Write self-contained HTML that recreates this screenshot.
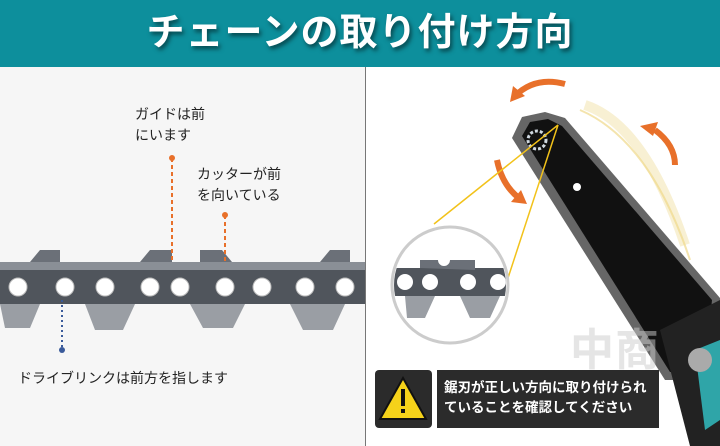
<!DOCTYPE html>
<html><head><meta charset="utf-8"><style>
body{margin:0;width:720px;height:446px;overflow:hidden;background:#fff;font-family:"Liberation Sans","Noto Sans CJK JP",sans-serif;position:relative}
.hdr{position:absolute;left:0;top:0;width:720px;height:67px;background:#0d8f9c;color:#fff;font-weight:bold;font-size:38px;text-align:center;line-height:67px;text-shadow:2px 3px 4px rgba(0,0,0,.5);letter-spacing:1px}
.lp{position:absolute;left:0;top:67px;width:365px;height:379px;background:#f6f6f6;border-right:1px solid #777}
.t{position:absolute;font-size:14px;color:#222;line-height:21px}
</style></head><body>
<div class="hdr">チェーンの取り付け方向</div>
<div class="lp"></div>
<svg style="position:absolute;left:0;top:0" width="720" height="446">
<!-- left chain -->
<rect x="0" y="268" width="365" height="36" fill="#50555c"/>
<rect x="0" y="262" width="365" height="8" fill="#8a8f96"/>
<g fill="#6b7078">
<path d="M30 262 l10 -12 h20 v12z"/><path d="M140 262 l10 -12 h22 v12z"/><path d="M200 262 v-12 h22 l10 12z"/><path d="M320 262 l10 -12 h20 v12z"/>
</g>
<g fill="#9a9ea4">
<path d="M0 304 h40 l-10 24 h-25z"/><path d="M85 304 h50 l-12 26 h-28z"/><path d="M190 304 h55 l-12 24 h-30z"/><path d="M290 304 h55 l-12 26 h-30z"/>
</g>
<g fill="#fff" stroke="#bbb">
<circle cx="18" cy="287" r="9"/><circle cx="65" cy="287" r="9"/><circle cx="105" cy="287" r="9"/><circle cx="150" cy="287" r="9"/><circle cx="180" cy="287" r="9"/><circle cx="225" cy="287" r="9"/><circle cx="262" cy="287" r="9"/><circle cx="305" cy="287" r="9"/><circle cx="345" cy="287" r="9"/>
</g>
<line x1="172" y1="158" x2="172" y2="262" stroke="#e8702a" stroke-width="2" stroke-dasharray="4,3"/>
<circle cx="172" cy="158" r="3" fill="#e8702a"/>
<line x1="225" y1="215" x2="225" y2="262" stroke="#e8702a" stroke-width="2" stroke-dasharray="4,3"/>
<circle cx="225" cy="215" r="3" fill="#e8702a"/>
<line x1="62" y1="300" x2="62" y2="350" stroke="#3a5a9a" stroke-width="2" stroke-dasharray="2,3"/>
<circle cx="62" cy="350" r="3" fill="#3a5a9a"/>
<!-- right: chainsaw bar -->
<path d="M512 138 L522 117 L545 112 L565 118 L720 298 L720 380 L665 380 Z" fill="#666"/>
<path d="M522 136 L530 122 L548 119 L562 126 L712 300 L705 372 L670 372 Z" fill="#111"/>
<circle cx="537" cy="140" r="9" fill="none" stroke="#cfd8e0" stroke-width="3" stroke-dasharray="3,2"/>
<circle cx="577" cy="187" r="4" fill="#fff"/>
<path d="M660 330 L720 300 L720 446 L690 446 Z" fill="#222"/>
<path d="M695 350 L720 340 L720 420 L705 430Z" fill="#2fa5a8"/>
<circle cx="700" cy="360" r="12" fill="#aaa"/>
<path d="M585 105 q60 20 100 140" stroke="#f2e2a8" stroke-width="10" fill="none" opacity=".5"/>
<path d="M580 110 q70 30 110 150" stroke="#f0d88a" stroke-width="2" fill="none" opacity=".7"/>
<path d="M565 84 q-30 -8 -50 12" stroke="#e8702a" stroke-width="6" fill="none"/><path d="M510 102 l3 -16 l12 10z" fill="#e8702a"/>
<path d="M675 165 q0 -20 -20 -35" stroke="#e8702a" stroke-width="6" fill="none"/><path d="M640 126 l18 -4 l-5 14z" fill="#e8702a"/>
<path d="M497 160 q5 25 22 38" stroke="#e8702a" stroke-width="6" fill="none"/><path d="M527 204 l-16 -2 l10 -12z" fill="#e8702a"/>
<line x1="434" y1="224" x2="558" y2="125" stroke="#f2c21a" stroke-width="1.5"/>
<line x1="508" y1="278" x2="558" y2="125" stroke="#f2c21a" stroke-width="1.5"/>
<circle cx="450" cy="285" r="58" fill="#fff" stroke="#ccc" stroke-width="3"/>
<clipPath id="c"><circle cx="450" cy="285" r="56"/></clipPath>
<g clip-path="url(#c)">
<rect x="392" y="268" width="116" height="28" fill="#50555c"/>
<path d="M420 268 v-8 h18 a6 6 0 0 0 12 0 h25 v10z" fill="#6b7078"/>
<path d="M405 296 h30 l-10 22 h-18z M460 296 h40 l-10 22 h-20z" fill="#9a9ea4"/>
<circle cx="405" cy="282" r="8" fill="#fff"/><circle cx="430" cy="282" r="8" fill="#fff"/><circle cx="468" cy="282" r="8" fill="#fff"/><circle cx="498" cy="282" r="8" fill="#fff"/>
</g>
<text x="570" y="365" font-size="44" font-weight="bold" fill="#ccc" opacity=".5" font-family="Noto Sans CJK JP">中</text>
<text x="615" y="365" font-size="44" font-weight="bold" fill="#ccc" opacity=".5" font-family="Noto Sans CJK JP">商</text>
<!-- warning -->
<rect x="375" y="370" width="57" height="58" rx="4" fill="#2b2b2b"/>
<path d="M403 378 L426 419 H380 Z" fill="#f5d21a" stroke="#111" stroke-width="2"/>
<rect x="401" y="389" width="4" height="17" fill="#111"/><rect x="401" y="409" width="4" height="4" fill="#111"/>
<rect x="437" y="370" width="222" height="58" fill="#2b2b2b"/>
</svg>
<div class="t" style="left:135px;top:104px">ガイドは前<br>にいます</div>
<div class="t" style="left:197px;top:164px">カッターが前<br>を向いている</div>
<div class="t" style="left:18px;top:368px">ドライブリンクは前方を指します</div>
<div class="t" style="left:444px;top:378px;color:#fff;font-weight:bold;font-size:13.5px;line-height:20px">鋸刃が正しい方向に取り付けられ<br>ていることを確認してください</div>
</body></html>
